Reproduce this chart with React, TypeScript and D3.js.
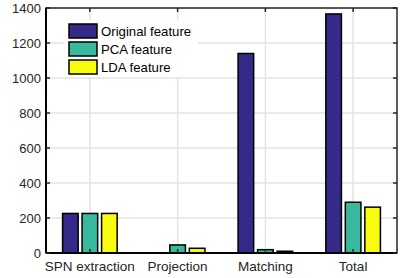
import React from "react";
import * as d3 from "d3";

const categories = ["SPN extraction", "Projection", "Matching", "Total"];
const seriesNames = ["Original feature", "PCA feature", "LDA feature"];
const originalValues = [226, 1, 1140, 1366];
const pcaValues = [226, 46, 19, 290];
const ldaValues = [226, 27, 10, 262];
const yTicks = [0, 200, 400, 600, 800, 1000, 1200, 1400];
const colors = ["#352a87", "#38b89d", "#f9fb0e"];

const W = 401;
const H = 278;
const left = 46;
const right = 397;
const top = 8;
const bottom = 253;
const font = "'Liberation Sans', Arial, Helvetica, sans-serif";

export default function App() {
  const series = [originalValues, pcaValues, ldaValues];
  const x0 = d3.scaleBand<string>().domain(categories).range([left, right]).padding(0);
  const groupW = x0.bandwidth() * (3 / 4.5);
  const x1 = d3
    .scaleBand<number>()
    .domain([0, 1, 2])
    .range([-groupW / 2, groupW / 2])
    .paddingInner(0.2)
    .paddingOuter(0.1);
  const y = d3.scaleLinear().domain([0, 1400]).range([bottom, top]);
  const axisColor = "#262626";
  const gridColor = "#e3e3e3";

  return (
    <svg width={W} height={H} style={{ position: "absolute", left: 0, top: 0, background: "#fff" }}>
      <rect x={0} y={0} width={W} height={H} fill="#fff" />
      {yTicks.map((t) => (
        <line key={"gy" + t} x1={left} x2={right} y1={y(t)} y2={y(t)} stroke={gridColor} strokeWidth={1.5} />
      ))}
      {categories.map((c) => {
        const cx = (x0(c) as number) + x0.bandwidth() / 2;
        return <line key={"gx" + c} x1={cx} x2={cx} y1={top} y2={bottom} stroke={gridColor} strokeWidth={1.5} />;
      })}
      {series.map((vals, si) =>
        vals.map((v, ci) => {
          const cx = (x0(categories[ci]) as number) + x0.bandwidth() / 2;
          const bx = cx + (x1(si) as number);
          const yt = y(v);
          return (
            <rect
              key={"b" + si + "-" + ci}
              x={bx}
              y={yt}
              width={x1.bandwidth()}
              height={Math.max(0, bottom - yt)}
              fill={colors[si]}
              stroke="#000"
              strokeWidth={1.5}
            />
          );
        })
      )}
      <rect x={left} y={top} width={right - left} height={bottom - top} fill="none" stroke={axisColor} strokeWidth={1.5} />
      <line x1={left} x2={right} y1={bottom} y2={bottom} stroke="#000" strokeWidth={2} />
      <line x1={left} x2={left} y1={top} y2={bottom} stroke="#000" strokeWidth={2} />
      {yTicks.map((t) => (
        <g key={"ty" + t}>
          <line x1={left} x2={left + 4} y1={y(t)} y2={y(t)} stroke={axisColor} strokeWidth={1.5} />
          <line x1={right} x2={right - 4} y1={y(t)} y2={y(t)} stroke={axisColor} strokeWidth={1.5} />
          <text x={left - 5} y={y(t)} dy="0.35em" textAnchor="end" fontFamily={font} fontSize={13} fill={axisColor}>
            {t}
          </text>
        </g>
      ))}
      {categories.map((c) => {
        const cx = (x0(c) as number) + x0.bandwidth() / 2;
        return (
          <g key={"tx" + c}>
            <line x1={cx} x2={cx} y1={bottom} y2={bottom - 4} stroke={axisColor} strokeWidth={1.5} />
            <line x1={cx} x2={cx} y1={top} y2={top + 4} stroke={axisColor} strokeWidth={1.5} />
            <text x={cx} y={271} textAnchor="middle" fontFamily={font} fontSize={13.5} fill={axisColor}>
              {c}
            </text>
          </g>
        );
      })}
      <rect x={64} y={20} width={134} height={57} fill="#fff" />
      {seriesNames.map((n, i) => (
        <g key={"lg" + n} transform={`translate(0, ${24 + i * 18})`}>
          <rect x={69} y={0} width={28} height={14} fill={colors[i]} stroke="#000" strokeWidth={1.5} />
          <text x={101} y={7} dy="0.35em" fontFamily={font} fontSize={13.2} fill="#000">
            {n}
          </text>
        </g>
      ))}
    </svg>
  );
}
